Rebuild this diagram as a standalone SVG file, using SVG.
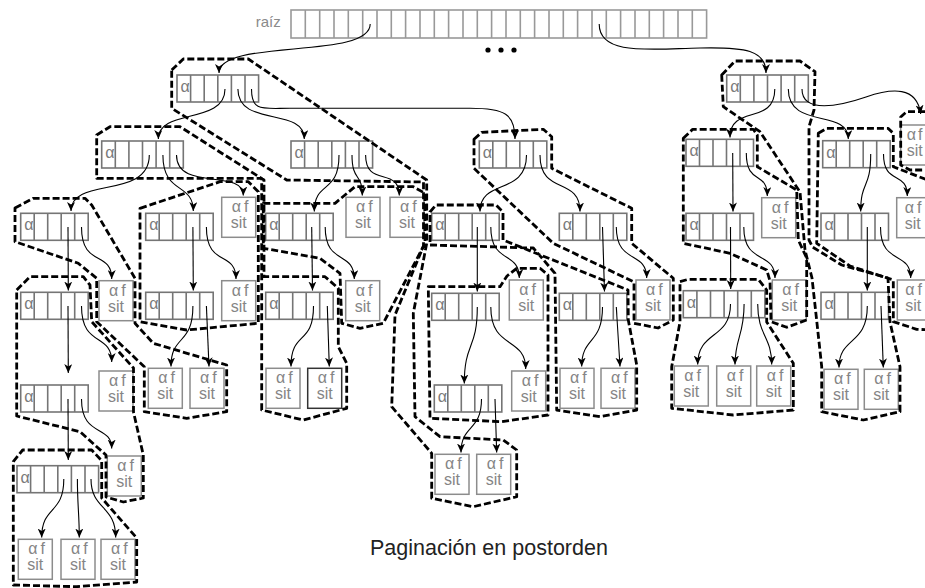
<svg xmlns="http://www.w3.org/2000/svg" width="925" height="588" viewBox="0 0 925 588">
<style>
.nb{fill:#fff;stroke:#757575;stroke-width:1.6}
.nc{fill:none;stroke:#757575;stroke-width:1.6}
.lb{fill:#fff;stroke:#8c8c8c;stroke-width:1.5}
.lbd{fill:#fff;stroke:#333;stroke-width:1.5}
.a{font-family:"Liberation Sans",Arial,sans-serif;font-size:16px;fill:#7a7a7a}
.lt{font-family:"Liberation Sans",Arial,sans-serif;font-size:16px;fill:#858585}
.pg{fill:none;stroke:#000;stroke-width:2.8;stroke-dasharray:7 3;stroke-linejoin:round}
.cn{fill:none;stroke:#000;stroke-width:1.1;marker-end:url(#ah)}
</style>
<defs>
<marker id="ah" markerUnits="userSpaceOnUse" markerWidth="10" markerHeight="8" refX="9" refY="4" orient="auto">
<path d="M0,0 L9,4 L0,8 L2.5,4 z" fill="#000"/>
</marker>
</defs>
<rect width="925" height="588" fill="#fff"/>

<g id="raiz">
<text x="255.7" y="26.7" style="font-family:'Liberation Sans',Arial,sans-serif;font-size:15px;fill:#8a8a8a">raíz</text>
<rect x="291" y="10" width="415.6" height="28" fill="#fff" stroke="#999" stroke-width="1.6"/>
<path fill="none" stroke="#999" stroke-width="1.6" d="M305.3,10v28M319.7,10v28M334,10v28M348.3,10v28M362.7,10v28M377,10v28M391.3,10v28M405.6,10v28M420,10v28M434.3,10v28M448.6,10v28M463,10v28M477.3,10v28M491.6,10v28M506,10v28M520.3,10v28M534.6,10v28M549,10v28M563.3,10v28M577.6,10v28M592,10v28M606.3,10v28M620.6,10v28M635,10v28M649.3,10v28M663.6,10v28M678,10v28M692.3,10v28"/>
</g>
<g id="dots" fill="#000"><circle cx="488" cy="50" r="2.6"/><circle cx="501" cy="50" r="2.6"/><circle cx="514" cy="50" r="2.6"/></g>

<g id="A" transform="translate(177,75)"><rect class="nb" width="81.6" height="27"/><path class="nc" d="M13.6,0v27M27.2,0v27M40.8,0v27M54.4,0v27M68,0v27"/><text class="a" x="3.5" y="17">α</text></g>
<g id="B" transform="translate(101.7,141)"><rect class="nb" width="81.6" height="27"/><path class="nc" d="M13.6,0v27M27.2,0v27M40.8,0v27M54.4,0v27M68,0v27"/><text class="a" x="3.5" y="17">α</text></g>
<g id="C" transform="translate(291,141)"><rect class="nb" width="81.6" height="27"/><path class="nc" d="M13.6,0v27M27.2,0v27M40.8,0v27M54.4,0v27M68,0v27"/><text class="a" x="3.5" y="17">α</text></g>
<g id="J" transform="translate(17,465.7)"><rect class="nb" width="81.6" height="27"/><path class="nc" d="M13.6,0v27M27.2,0v27M40.8,0v27M54.4,0v27M68,0v27"/><text class="a" x="3.5" y="17">α</text></g>
<g id="S" transform="translate(726.7,75)"><rect class="nb" width="81.6" height="27"/><path class="nc" d="M13.6,0v27M27.2,0v27M40.8,0v27M54.4,0v27M68,0v27"/><text class="a" x="3.5" y="17">α</text></g>
<g id="X" transform="translate(683.3,290.7)"><rect class="nb" width="81.6" height="27"/><path class="nc" d="M13.6,0v27M27.2,0v27M40.8,0v27M54.4,0v27M68,0v27"/><text class="a" x="3.5" y="17">α</text></g>
<g id="D" transform="translate(479.3,141)"><rect class="nb" width="67.5" height="27"/><path class="nc" d="M13.5,0v27M27,0v27M40.5,0v27M54,0v27"/><text class="a" x="3.5" y="17">α</text></g>
<g id="E" transform="translate(20.7,213.3)"><rect class="nb" width="67.5" height="27"/><path class="nc" d="M13.5,0v27M27,0v27M40.5,0v27M54,0v27"/><text class="a" x="3.5" y="17">α</text></g>
<g id="F" transform="translate(145.7,213.3)"><rect class="nb" width="67.5" height="27"/><path class="nc" d="M13.5,0v27M27,0v27M40.5,0v27M54,0v27"/><text class="a" x="3.5" y="17">α</text></g>
<g id="G" transform="translate(20.7,292.3)"><rect class="nb" width="67.5" height="27"/><path class="nc" d="M13.5,0v27M27,0v27M40.5,0v27M54,0v27"/><text class="a" x="3.5" y="17">α</text></g>
<g id="H" transform="translate(145.7,292.3)"><rect class="nb" width="67.5" height="27"/><path class="nc" d="M13.5,0v27M27,0v27M40.5,0v27M54,0v27"/><text class="a" x="3.5" y="17">α</text></g>
<g id="I" transform="translate(20.7,385)"><rect class="nb" width="67.5" height="27"/><path class="nc" d="M13.5,0v27M27,0v27M40.5,0v27M54,0v27"/><text class="a" x="3.5" y="17">α</text></g>
<g id="K" transform="translate(265.7,213.3)"><rect class="nb" width="67.5" height="27"/><path class="nc" d="M13.5,0v27M27,0v27M40.5,0v27M54,0v27"/><text class="a" x="3.5" y="17">α</text></g>
<g id="M" transform="translate(265.7,292.3)"><rect class="nb" width="67.5" height="27"/><path class="nc" d="M13.5,0v27M27,0v27M40.5,0v27M54,0v27"/><text class="a" x="3.5" y="17">α</text></g>
<g id="N" transform="translate(431.7,213.3)"><rect class="nb" width="67.5" height="27"/><path class="nc" d="M13.5,0v27M27,0v27M40.5,0v27M54,0v27"/><text class="a" x="3.5" y="17">α</text></g>
<g id="O" transform="translate(559.3,213.3)"><rect class="nb" width="67.5" height="27"/><path class="nc" d="M13.5,0v27M27,0v27M40.5,0v27M54,0v27"/><text class="a" x="3.5" y="17">α</text></g>
<g id="P" transform="translate(431.7,293.3)"><rect class="nb" width="67.5" height="27"/><path class="nc" d="M13.5,0v27M27,0v27M40.5,0v27M54,0v27"/><text class="a" x="3.5" y="17">α</text></g>
<g id="Q" transform="translate(559.3,293.3)"><rect class="nb" width="67.5" height="27"/><path class="nc" d="M13.5,0v27M27,0v27M40.5,0v27M54,0v27"/><text class="a" x="3.5" y="17">α</text></g>
<g id="R" transform="translate(434.3,385)"><rect class="nb" width="67.5" height="27"/><path class="nc" d="M13.5,0v27M27,0v27M40.5,0v27M54,0v27"/><text class="a" x="3.5" y="17">α</text></g>
<g id="T" transform="translate(686,139.3)"><rect class="nb" width="67.5" height="27"/><path class="nc" d="M13.5,0v27M27,0v27M40.5,0v27M54,0v27"/><text class="a" x="3.5" y="17">α</text></g>
<g id="U" transform="translate(822.7,140.7)"><rect class="nb" width="67.5" height="27"/><path class="nc" d="M13.5,0v27M27,0v27M40.5,0v27M54,0v27"/><text class="a" x="3.5" y="17">α</text></g>
<g id="V" transform="translate(686,213.3)"><rect class="nb" width="67.5" height="27"/><path class="nc" d="M13.5,0v27M27,0v27M40.5,0v27M54,0v27"/><text class="a" x="3.5" y="17">α</text></g>
<g id="W" transform="translate(821,213.3)"><rect class="nb" width="67.5" height="27"/><path class="nc" d="M13.5,0v27M27,0v27M40.5,0v27M54,0v27"/><text class="a" x="3.5" y="17">α</text></g>
<g id="Y" transform="translate(821,292.3)"><rect class="nb" width="67.5" height="27"/><path class="nc" d="M13.5,0v27M27,0v27M40.5,0v27M54,0v27"/><text class="a" x="3.5" y="17">α</text></g>

<g id="L1" transform="translate(221.7,197.3)"><rect class="lb" width="34" height="40"/><text class="lt" x="10" y="15">α<tspan dx="3">f</tspan></text><text class="lt" x="9" y="31">sit</text></g>
<g id="L2" transform="translate(99,280.7)"><rect class="lb" width="34" height="40"/><text class="lt" x="10" y="15">α<tspan dx="3">f</tspan></text><text class="lt" x="9" y="31">sit</text></g>
<g id="L3" transform="translate(221.7,280.7)"><rect class="lb" width="34" height="40"/><text class="lt" x="10" y="15">α<tspan dx="3">f</tspan></text><text class="lt" x="9" y="31">sit</text></g>
<g id="L4" transform="translate(99,371)"><rect class="lb" width="34" height="40"/><text class="lt" x="10" y="15">α<tspan dx="3">f</tspan></text><text class="lt" x="9" y="31">sit</text></g>
<g id="L5" transform="translate(107.3,456)"><rect class="lb" width="34" height="40"/><text class="lt" x="10" y="15">α<tspan dx="3">f</tspan></text><text class="lt" x="9" y="31">sit</text></g>
<g id="L6" transform="translate(18.3,539.3)"><rect class="lb" width="34" height="40"/><text class="lt" x="10" y="15">α<tspan dx="3">f</tspan></text><text class="lt" x="9" y="31">sit</text></g>
<g id="L7" transform="translate(61,539.3)"><rect class="lb" width="34" height="40"/><text class="lt" x="10" y="15">α<tspan dx="3">f</tspan></text><text class="lt" x="9" y="31">sit</text></g>
<g id="L8" transform="translate(101,539.3)"><rect class="lb" width="34" height="40"/><text class="lt" x="10" y="15">α<tspan dx="3">f</tspan></text><text class="lt" x="9" y="31">sit</text></g>
<g id="L9" transform="translate(148.3,368.3)"><rect class="lb" width="34" height="40"/><text class="lt" x="10" y="15">α<tspan dx="3">f</tspan></text><text class="lt" x="9" y="31">sit</text></g>
<g id="L10" transform="translate(190,368.3)"><rect class="lb" width="34" height="40"/><text class="lt" x="10" y="15">α<tspan dx="3">f</tspan></text><text class="lt" x="9" y="31">sit</text></g>
<g id="L11" transform="translate(346,197.3)"><rect class="lb" width="34" height="40"/><text class="lt" x="10" y="15">α<tspan dx="3">f</tspan></text><text class="lt" x="9" y="31">sit</text></g>
<g id="L12" transform="translate(390,197.3)"><rect class="lb" width="34" height="40"/><text class="lt" x="10" y="15">α<tspan dx="3">f</tspan></text><text class="lt" x="9" y="31">sit</text></g>
<g id="L13" transform="translate(345.7,280.7)"><rect class="lb" width="34" height="40"/><text class="lt" x="10" y="15">α<tspan dx="3">f</tspan></text><text class="lt" x="9" y="31">sit</text></g>
<g id="L14" transform="translate(266,368.3)"><rect class="lb" width="34" height="40"/><text class="lt" x="10" y="15">α<tspan dx="3">f</tspan></text><text class="lt" x="9" y="31">sit</text></g>
<g id="L15" transform="translate(307.7,368.3)"><rect class="lbd" width="34" height="40"/><text class="lt" x="10" y="15">α<tspan dx="3">f</tspan></text><text class="lt" x="9" y="31">sit</text></g>
<g id="L16" transform="translate(509.3,280)"><rect class="lb" width="34" height="40"/><text class="lt" x="10" y="15">α<tspan dx="3">f</tspan></text><text class="lt" x="9" y="31">sit</text></g>
<g id="L17" transform="translate(636,280)"><rect class="lb" width="34" height="40"/><text class="lt" x="10" y="15">α<tspan dx="3">f</tspan></text><text class="lt" x="9" y="31">sit</text></g>
<g id="L18" transform="translate(511.7,371)"><rect class="lb" width="34" height="40"/><text class="lt" x="10" y="15">α<tspan dx="3">f</tspan></text><text class="lt" x="9" y="31">sit</text></g>
<g id="L19" transform="translate(435,454.3)"><rect class="lb" width="34" height="40"/><text class="lt" x="10" y="15">α<tspan dx="3">f</tspan></text><text class="lt" x="9" y="31">sit</text></g>
<g id="L20" transform="translate(476.7,454.3)"><rect class="lb" width="34" height="40"/><text class="lt" x="10" y="15">α<tspan dx="3">f</tspan></text><text class="lt" x="9" y="31">sit</text></g>
<g id="L21" transform="translate(560,368.3)"><rect class="lb" width="34" height="40"/><text class="lt" x="10" y="15">α<tspan dx="3">f</tspan></text><text class="lt" x="9" y="31">sit</text></g>
<g id="L22" transform="translate(601,368.3)"><rect class="lb" width="34" height="40"/><text class="lt" x="10" y="15">α<tspan dx="3">f</tspan></text><text class="lt" x="9" y="31">sit</text></g>
<g id="L23" transform="translate(900.7,125)"><rect class="lb" width="34" height="40"/><text class="lt" x="6" y="15">α<tspan dx="2">f</tspan></text><text class="lt" x="6" y="31">sit</text></g>
<g id="L24" transform="translate(761.7,197.7)"><rect class="lb" width="34" height="40"/><text class="lt" x="10" y="15">α<tspan dx="3">f</tspan></text><text class="lt" x="9" y="31">sit</text></g>
<g id="L25" transform="translate(896.7,197.7)"><rect class="lb" width="34" height="40"/><text class="lt" x="8" y="15">α<tspan dx="3">f</tspan></text><text class="lt" x="8" y="31">sit</text></g>
<g id="L26" transform="translate(772.3,280)"><rect class="lb" width="34" height="40"/><text class="lt" x="10" y="15">α<tspan dx="3">f</tspan></text><text class="lt" x="9" y="31">sit</text></g>
<g id="L27" transform="translate(674.3,366)"><rect class="lb" width="34" height="40"/><text class="lt" x="10" y="15">α<tspan dx="3">f</tspan></text><text class="lt" x="9" y="31">sit</text></g>
<g id="L28" transform="translate(716.7,366)"><rect class="lb" width="34" height="40"/><text class="lt" x="10" y="15">α<tspan dx="3">f</tspan></text><text class="lt" x="9" y="31">sit</text></g>
<g id="L29" transform="translate(756.7,366)"><rect class="lb" width="34" height="40"/><text class="lt" x="10" y="15">α<tspan dx="3">f</tspan></text><text class="lt" x="9" y="31">sit</text></g>
<g id="L30" transform="translate(897.3,280)"><rect class="lb" width="34" height="40"/><text class="lt" x="8" y="15">α<tspan dx="3">f</tspan></text><text class="lt" x="8" y="31">sit</text></g>
<g id="L31" transform="translate(824,369.3)"><rect class="lb" width="34" height="40"/><text class="lt" x="10" y="15">α<tspan dx="3">f</tspan></text><text class="lt" x="9" y="31">sit</text></g>
<g id="L32" transform="translate(864.3,369.3)"><rect class="lb" width="34" height="40"/><text class="lt" x="10" y="15">α<tspan dx="3">f</tspan></text><text class="lt" x="9" y="31">sit</text></g>

<g id="pages">
<polygon class="pg" points="13.3,461.7 22.7,450 91.7,450 101.7,460.7 101.7,498 136.7,538 136.7,582 76.7,586.7 13.3,585"/>
<polygon class="pg" points="16.7,290 30,276.7 83.3,276.7 90,285 91.7,321.7 133.5,368 133.5,412 143.3,455 143.3,498 123.3,502 106,497 106,455 80,431.7 16.7,416"/>
<polygon class="pg" points="15,208 33.3,198.3 85,198.3 91.7,205 135,278.3 135,323.3 153.3,343.3 226.7,365 226.7,411.7 186.7,418.3 144.3,411.7 144.3,366.7 96.7,321.7 96.7,278.3 78.3,263.3 15,241.7"/>
<polygon class="pg" points="140,208.3 220,181.7 248.3,181.7 258.3,191.7 258.3,323.3 186.7,330 140,321.7"/>
<polygon class="pg" points="96.7,135 110,126.7 180,126.7 264,180 264,276.7 325,276.7 338.3,288.3 338.3,346.7 346.7,363.3 346.7,408.3 303.3,420 261.7,410 261.7,178.3 96.7,178.3"/>
<polygon class="pg" points="263.3,203.3 335,203.3 355,186.7 413.3,186.7 425,193.3 425,243.3 383.3,323.3 360,328.3 341.7,323.3 340,273.3 320,258.3 263.3,248.3"/>
<polygon class="pg" points="171.7,70 183.3,59 248.3,59 426.7,180 426.7,243.3 413.3,313.3 415,416.7 440,436.7 503.3,440 516.7,450 516.7,496.7 473.3,506.7 431.7,498.3 431.7,453.3 391.7,406.7 395,315 423.5,246 423.5,182 286.7,180 171.7,108.3"/>
<polygon class="pg" points="428.3,286.7 500,286.7 507,276 516.7,268.3 540,268.3 548,275 548,415 501.7,421.7 430,418.3"/>
<polygon class="pg" points="430,212 436,205 496,205 503,212 503,240 628,290 628.3,320 636.7,365 636.7,410 600,416.7 556.7,410 555,273.3 533.3,248 430,245"/>
<polygon class="pg" points="474,139.3 481.7,132.3 543.3,129.3 551.7,136.7 551.7,168.3 631.7,208.3 631.7,243.3 673.3,278.3 673.3,320 658,328 634,323.3 634,282 553.3,243.3 474,168.3"/>
<polygon class="pg" points="683.3,138.3 692.7,129.3 753.3,129.3 757.3,135 757.3,166.7 796.7,190 798.3,240 806.7,258 806.7,320 786.7,327.3 771,321.7 770,281 766.7,270 730,253.3 683.3,243.3"/>
<polygon class="pg" points="680,281.7 688.3,279.3 758.3,279.3 766.7,290 766.7,322 793.3,363.3 793.3,410 733.3,415 671.7,408.3 671.7,366.7 680,322"/>
<polygon class="pg" points="721.7,75 735,61 800,61 815,71.7 814,110 809,126.7 809,240 812.5,247 841.7,265 888,278 890,322 900,366.7 900,411.7 863.3,420 821.7,411.7 821.7,366.7 817,323.3 812,278 805,250 800,192 760,131.7 723.3,106.7"/>
<polygon class="pg" points="818.3,133.3 826.7,128.3 888,128.3 893.3,133.3 893.3,166.7 935,183 935,330 916.7,329.3 893.3,321.7 893.3,280 850,266 816.7,243.3"/>
<polygon class="pg" points="935,111.7 906.7,111.7 900.7,117 900.7,165 910,170 935,170"/>
</g>

<g id="connectors">
<path class="cn" d="M370.2,24 C370.2,60 219,38 219,73"/>
<path class="cn" d="M599.2,24 C599.2,56 650,49 700,48 C745,47 766,50 766,73"/>
<path class="cn" d="M225,89 C225,125 158.3,108 158.3,139"/>
<path class="cn" d="M237.9,89 C237.9,128 304.3,106 304.3,139"/>
<path class="cn" d="M251.5,89 C251.5,112 262,108.3 290,108.3 L470,108.3 C505,108.3 515,114 515,139"/>
<path class="cn" d="M149.3,155 C149.3,200 71,176 71,211"/>
<path class="cn" d="M162.9,155 C162.9,195 193.3,182 193.3,211"/>
<path class="cn" d="M176.5,155 C176.5,192 243.3,168 243.3,195.5"/>
<path class="cn" d="M339,155 C339,195 314.3,180 314.3,211.5"/>
<path class="cn" d="M352,155 C352,182 362.3,172 362.3,195.5"/>
<path class="cn" d="M365.6,155 C365.6,188 399.3,166 399.3,195.5"/>
<path class="cn" d="M526.5,155 C526.5,196 480,178 480,211.5"/>
<path class="cn" d="M540,155 C540,196 580,176 580,211.5"/>
<path class="cn" d="M68,227 L68.3,290.5"/>
<path class="cn" d="M81.5,227 C81.5,268 111.7,250 111.7,279"/>
<path class="cn" d="M192.9,227 L193.3,290.5"/>
<path class="cn" d="M206.4,227 C206.4,268 236,250 236,279"/>
<path class="cn" d="M68,306 L68.3,373"/>
<path class="cn" d="M81.5,306 C81.5,348 111.7,332 111.7,362"/>
<path class="cn" d="M192.9,306 C192.9,346 171,334 171,366.5"/>
<path class="cn" d="M206.4,306 L209,366.5"/>
<path class="cn" d="M68,399 L68.3,460"/>
<path class="cn" d="M81.5,399 C81.5,438 111.7,424 111.7,448.5"/>
<path class="cn" d="M63.8,479 C63.8,515 41.7,505 41.7,537.5"/>
<path class="cn" d="M77.4,479 C77.4,505 79.3,515 79.3,537.5"/>
<path class="cn" d="M91,479 C91,510 115.7,505 115.7,537.5"/>
<path class="cn" d="M311.7,227 L312.5,290.5"/>
<path class="cn" d="M325.2,227 C325.2,266 354.3,250 354.3,279"/>
<path class="cn" d="M313.5,306 C313.5,346 291,330 291,366.5"/>
<path class="cn" d="M327.3,306 L329.3,366.5"/>
<path class="cn" d="M477.3,227 L477.3,291.5"/>
<path class="cn" d="M490.8,227 C490.8,265 519.3,250 519.3,278"/>
<path class="cn" d="M602.5,227 L604.5,291.5"/>
<path class="cn" d="M616.3,227 C616.3,265 646.7,250 646.7,278"/>
<path class="cn" d="M477.3,307 C477.3,350 464.3,342 464.3,383.5"/>
<path class="cn" d="M490.8,307 C490.8,350 525.7,336 525.7,369"/>
<path class="cn" d="M602.5,307 C602.5,345 581.7,336 581.7,366.5"/>
<path class="cn" d="M616.3,307 L620,366.5"/>
<path class="cn" d="M481.5,399 C481.5,432 461,424 461,452.5"/>
<path class="cn" d="M495,399 L496.7,452.5"/>
<path class="cn" d="M774.8,89 C774.8,126 730,104 730,137.5"/>
<path class="cn" d="M788.3,89 C788.3,130 848.3,108 848.3,139"/>
<path class="cn" d="M802,89 C802,114 840,106 866,97 C892,88 917,86 920.7,114"/>
<path class="cn" d="M732.7,153 L733,211.5"/>
<path class="cn" d="M746.3,153 C746.3,186 767.3,170 767.3,196"/>
<path class="cn" d="M870.7,154 C870.7,190 860.7,180 860.7,211.5"/>
<path class="cn" d="M883.5,154 C883.5,186 907.3,170 907.3,196"/>
<path class="cn" d="M730.5,227 L730.7,289"/>
<path class="cn" d="M743.8,227 C743.8,266 775,250 775,278"/>
<path class="cn" d="M867.3,227 L867.3,290.5"/>
<path class="cn" d="M880.5,227 C880.5,266 910.7,250 910.7,278"/>
<path class="cn" d="M730.5,304 C730.5,340 697.7,330 697.7,364.5"/>
<path class="cn" d="M744.1,304 C744.1,336 735,338 735,364.5"/>
<path class="cn" d="M757.7,304 C757.7,336 771.7,336 771.7,364.5"/>
<path class="cn" d="M867.3,306 C867.3,346 839,336 839,367.5"/>
<path class="cn" d="M881,306 L883.3,367.5"/>
</g>

<text id="caption" x="370" y="555" style="font-family:'Liberation Sans',Arial,sans-serif;font-size:21.5px;fill:#222">Paginación en postorden</text>
</svg>
